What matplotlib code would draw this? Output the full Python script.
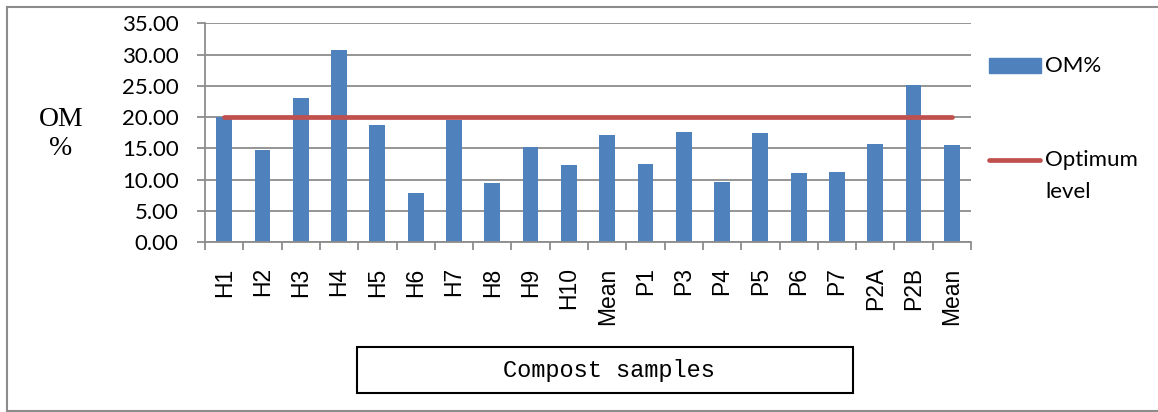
import matplotlib
matplotlib.use("Agg")
import matplotlib.pyplot as plt
from matplotlib.patches import Rectangle
from matplotlib.lines import Line2D
import numpy as np

W, H = 1158, 412

samples = ["H1", "H2", "H3", "H4", "H5", "H6", "H7", "H8", "H9", "H10", "Mean",
           "P1", "P3", "P4", "P5", "P6", "P7", "P2A", "P2B", "Mean"]
om = [20.0, 14.8, 23.1, 30.7, 18.7, 7.8, 19.6, 9.4, 15.2, 12.3, 17.1,
      12.45, 17.7, 9.7, 17.4, 11.1, 11.3, 15.7, 25.1, 15.55]
optimum = 20.0
yticks = [0, 5, 10, 15, 20, 25, 30, 35]

bar_col = "#4F81BD"
line_col = "#C0504D"
grid_col = "#8C8C8C"


def fx(px):
    return px / W


def fy(py):
    return 1 - py / H


fig = plt.figure(figsize=(W / 100, H / 100), dpi=100)
ax = fig.add_axes([fx(205), fy(242.3), fx(971) - fx(205), fy(23.3) - fy(242.3)])

x = np.arange(len(samples))
ax.bar(x, om, width=0.41, color=bar_col, zorder=2)
ax.plot([x[0], x[-1]], [optimum, optimum], color=line_col, lw=3.4,
        solid_capstyle="round", zorder=3)

ax.set_xlim(-0.5, len(samples) - 0.5)
ax.set_ylim(0, 35)
ax.set_yticks(yticks)
ax.set_yticklabels([f"{v:.2f}" for v in yticks], family="Lato", fontsize=16)
ax.yaxis.grid(True, color=grid_col, lw=1.3)
ax.set_axisbelow(True)
ax.tick_params(axis="y", length=6, width=1.3, color=grid_col, pad=13)

# category boundaries carry the ticks, centres carry the labels
ax.set_xticks(np.arange(-0.5, len(samples)), minor=False)
ax.set_xticklabels([])
ax.set_xticks(x, minor=True)
ax.set_xticklabels(samples, minor=True, rotation=90, family="Liberation Sans",
                   fontsize=16.5, va="top")
ax.tick_params(axis="x", which="major", length=6, width=1.3, color=grid_col)
ax.tick_params(axis="x", which="minor", length=0, pad=18)

for s in ["top", "right"]:
    ax.spines[s].set_visible(False)
for s in ["left", "bottom"]:
    ax.spines[s].set_color(grid_col)
    ax.spines[s].set_linewidth(1.3)

fig.text(fx(61), fy(134), "OM\n%", family="Liberation Serif", fontsize=20,
         ha="center", va="center", multialignment="center", linespacing=1.22)

# legend
fig.add_artist(Rectangle((fx(989), fy(72.7)), fx(1041) - fx(989), (72.7 - 58.3) / H,
                         transform=fig.transFigure, color=bar_col))
fig.text(fx(1045), fy(66), "OM%", family="Lato", fontsize=16, va="center")
fig.add_artist(Line2D([fx(989), fx(1040)], [fy(160), fy(160)], transform=fig.transFigure,
                      color=line_col, lw=3.4, solid_capstyle="round"))
fig.text(fx(1045), fy(160), "Optimum", family="Lato", fontsize=16, va="center")
fig.text(fx(1045), fy(192), "level", family="Lato", fontsize=16, va="center")

# axis title box
fig.add_artist(Rectangle((fx(357), fy(393)), fx(853) - fx(357), 46 / H,
                         transform=fig.transFigure, facecolor="white",
                         edgecolor="black", lw=1.5))
fig.text(fx(609), fy(370), "Compost samples", family="Liberation Mono", fontsize=17,
         ha="center", va="center")

# outer chart frame
frame = dict(transform=fig.transFigure, color=grid_col, lw=1.5)
fig.add_artist(Line2D([fx(7), fx(7)], [fy(7), fy(410.5)], **frame))
fig.add_artist(Line2D([fx(7), 1], [fy(7), fy(7)], **frame))
fig.add_artist(Line2D([fx(7), 1], [fy(410.5), fy(410.5)], **frame))

fig.savefig("out.png", dpi=100)
